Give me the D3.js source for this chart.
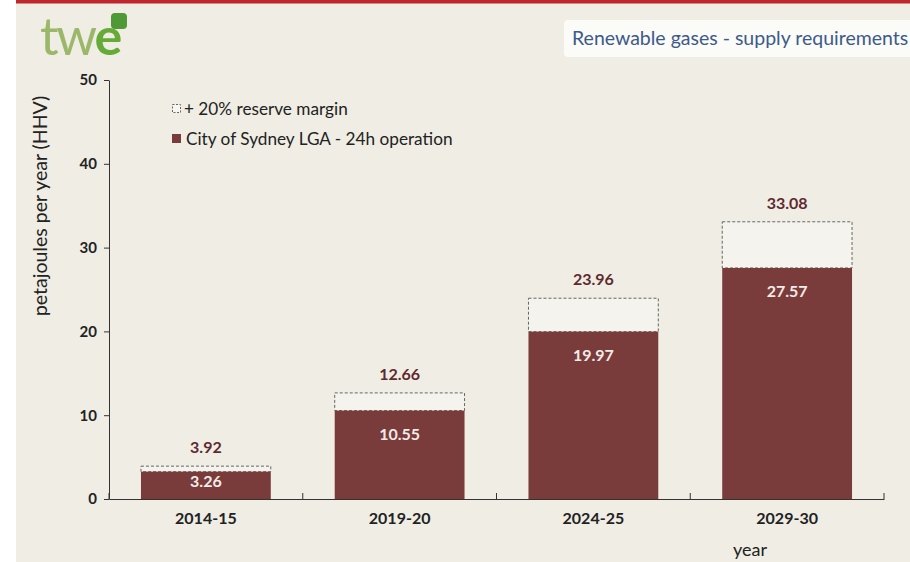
<!DOCTYPE html>
<html><head><meta charset="utf-8">
<script src="https://cdn.jsdelivr.net/npm/d3@7"></script>
<style>
html,body{margin:0;padding:0;background:#fff;}
svg{display:block;}
text{font-family:"Lato","Open Sans",sans-serif;}
</style></head>
<body>
<svg id="chart" width="910" height="562"></svg>
<script>
const categories = ["2014-15", "2019-20", "2024-25", "2029-30"];
const baseValues = [3.26, 10.55, 19.97, 27.57];
const totalValues = [3.92, 12.66, 23.96, 33.08];
const yTicks = [0, 10, 20, 30, 40, 50];
const legendLabels = ["+ 20% reserve margin", "City of Sydney LGA - 24h operation"];

const svg = d3.select("#chart");
const W = 910, H = 562;
const maroon = "#7a3b3b";

// background
svg.append("rect").attr("x", 16).attr("y", 0).attr("width", W - 16).attr("height", H).attr("fill", "#efede4");
svg.append("rect").attr("x", 16).attr("y", 0).attr("width", W - 16).attr("height", 3.5).attr("fill", "#c0272d");

// title box
svg.append("rect").attr("x", 564).attr("y", 20).attr("width", 360).attr("height", 37).attr("rx", 4).attr("fill", "#fbfbf8");
svg.append("text").attr("x", 572).attr("y", 45).attr("font-size", 19.5).attr("fill", "#3d5a8c")
  .text("Renewable gases - supply requirements");

// logo
const logo = svg.append("text").attr("x", 40).attr("y", 55).attr("font-size", 52).attr("letter-spacing", -2.5);
logo.append("tspan").attr("fill", "#9bb86a").text("tw");
logo.append("tspan").attr("fill", "#66ab38").attr("font-weight", "bold").text("e");
svg.append("rect").attr("x", 111).attr("y", 13).attr("width", 16).attr("height", 16).attr("rx", 4).attr("fill", "#4f9a36");

const x = d3.scaleBand().domain(categories).range([109, 884]).paddingInner(0.33).paddingOuter(0.165);
const y = d3.scaleLinear().domain([0, 50]).range([499, 80]);

// y axis
const yAxis = svg.append("g").attr("transform", "translate(109,0)")
  .call(d3.axisLeft(y).tickValues(yTicks).tickSize(5).tickSizeOuter(0));
yAxis.select(".domain").attr("stroke", "#333");
yAxis.selectAll(".tick line").attr("stroke", "#333");
yAxis.selectAll(".tick text").attr("font-size", 15).attr("font-weight", "bold").attr("fill", "#222").attr("x", -12);

// x axis
const xAxis = svg.append("g").attr("transform", "translate(0,499)")
  .call(d3.axisBottom(x).tickSize(0).tickSizeOuter(0));
xAxis.select(".domain").attr("stroke", "#333");
xAxis.selectAll(".tick text").attr("font-size", 16).attr("font-weight", "bold").attr("fill", "#222").attr("dy", "1.35em");
// category separator ticks
svg.append("g").selectAll("line").data(d3.range(categories.length + 1)).join("line")
  .attr("x1", i => 109 + i * x.step())
  .attr("x2", i => 109 + i * x.step())
  .attr("y1", 499).attr("y2", 493).attr("stroke", "#333");

// axis titles
svg.append("text").attr("transform", "translate(47,206) rotate(-90)").attr("text-anchor", "middle")
  .attr("font-size", 19.5).attr("fill", "#222").text("petajoules per year (HHV)");
svg.append("text").attr("x", 750).attr("y", 556).attr("text-anchor", "middle")
  .attr("font-size", 18).attr("fill", "#222").text("year");

// reserve boxes
svg.append("g").selectAll("rect").data(categories).join("rect")
  .attr("x", d => x(d)).attr("width", x.bandwidth())
  .attr("y", (d, i) => y(totalValues[i]))
  .attr("height", (d, i) => y(baseValues[i]) - y(totalValues[i]))
  .attr("fill", "#f4f3ee").attr("stroke", "#666").attr("stroke-width", 1).attr("stroke-dasharray", "3,2");

// base bars
svg.append("g").selectAll("rect").data(categories).join("rect")
  .attr("x", d => x(d)).attr("width", x.bandwidth())
  .attr("y", (d, i) => y(baseValues[i]))
  .attr("height", (d, i) => y(0) - y(baseValues[i]))
  .attr("fill", maroon);

// labels
svg.append("g").selectAll("text").data(categories).join("text")
  .attr("x", d => x(d) + x.bandwidth() / 2)
  .attr("y", (d, i) => y(totalValues[i]) - 13)
  .attr("text-anchor", "middle").attr("font-size", 16).attr("font-weight", "bold").attr("fill", "#5e2a30")
  .text((d, i) => totalValues[i].toFixed(2));
svg.append("g").selectAll("text").data(categories).join("text")
  .attr("x", d => x(d) + x.bandwidth() / 2)
  .attr("y", (d, i) => {
    const top = y(baseValues[i]);
    const h = y(0) - top;
    return top + Math.min(23, h / 2 - 4) + 6;
  })
  .attr("text-anchor", "middle").attr("font-size", 16).attr("font-weight", "bold").attr("fill", "#f4ece8")
  .text((d, i) => baseValues[i].toFixed(2));

// legend
const lg = svg.append("g");
lg.append("rect").attr("x", 172.5).attr("y", 104.5).attr("width", 8).attr("height", 8)
  .attr("fill", "#f7f6f1").attr("stroke", "#666").attr("stroke-dasharray", "2,1.5");
lg.append("text").attr("x", 184).attr("y", 115).attr("font-size", 17.2).attr("fill", "#222").text(legendLabels[0]);
lg.append("rect").attr("x", 172).attr("y", 134).attr("width", 9).attr("height", 9).attr("fill", maroon);
lg.append("text").attr("x", 186).attr("y", 145).attr("font-size", 17.2).attr("fill", "#222").text(legendLabels[1]);
</script>
</body></html>
